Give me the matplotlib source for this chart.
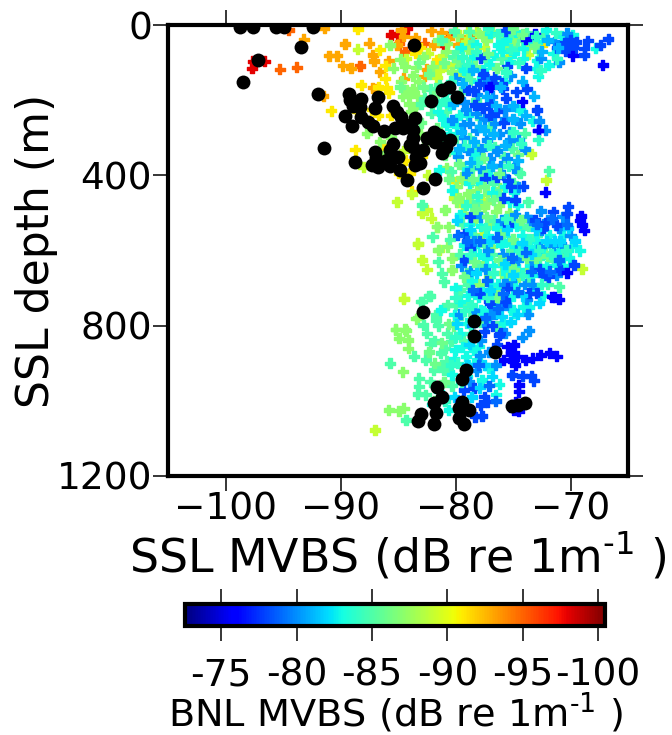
"""SSL depth against SSL MVBS, coloured by BNL MVBS."""

import matplotlib

matplotlib.use("Agg")
import matplotlib.pyplot as plt  # noqa: E402
from matplotlib.colors import Normalize  # noqa: E402

# (SSL MVBS, SSL depth), one list per BNL MVBS level.
pts_m98 = [(-97.6, 97), (-96.6, 97), (-97.7, 115), (-85.6, 27), (-85, 24), (-81, 53), (-80.4, 24), (-84.2, 10)]
pts_m95 = [(-95.3, 118), (-93.8, 113), (-82.7, 49), (-84.4, 71), (-88.3, 109), (-94.5, 13), (-78.5, 30), (-84.9, 50)]
pts_m93 = [
    (-91.4, 9), (-93.2, 38), (-89.6, 51), (-87.5, 49), (-91, 82), (-90.3, 82), (-87.2, 80), (-87.1, 96),
    (-89.8, 108), (-89.1, 115), (-86.6, 124), (-85.8, 95), (-84.5, 142), (-82.7, 137), (-87.2, 167),
    (-82.1, 15), (-81.2, 20), (-84.7, 13), (-85.1, 53), (-81.9, 53), (-79.8, 53), (-82.5, 118), (-91.5, 189),
    (-83.5, 35), (-80.6, 35), (-79.2, 40), (-86.9, 170), (-84.5, 30),
]
pts_m91 = [
    (-88.5, 11), (-86.6, 66), (-86.1, 108), (-88.2, 160), (-86.1, 142), (-90.8, 228), (-88.7, 332),
    (-81.6, 93), (-86.7, 165), (-72.5, 53), (-80, 417), (-77.4, 27), (-86, 168), (-87.3, 225), (-83.8, 443),
    (-84.9, 395), (-83.1, 60), (-85.6, 240), (-86.7, 240), (-88.6, 230), (-84, 395), (-85.8, 180), (-83.5, 75),
    (-86.3, 320), (-84.4, 360), (-82.9, 350),
]
pts_m89 = [
    (-88.5, 65), (-80, 18), (-78.9, 18), (-78.2, 18), (-81.4, 120), (-80.2, 102), (-85.1, 470), (-82.5, 492),
    (-82.1, 514), (-81.6, 537), (-83.3, 581), (-88, 379), (-72.1, 412), (-73.4, 343), (-77.7, 559),
    (-83.8, 450), (-82.9, 500), (-77.7, 466), (-83.3, 583), (-81.4, 599), (-82.9, 625), (-82.5, 650),
    (-84.5, 727), (-69, 648), (-84.5, 729), (-87, 1078), (-81.6, 140), (-79.1, 45), (-83.8, 255),
    (-80.8, 110), (-79.7, 130), (-77.5, 60), (-75.5, 85), (-73.7, 78), (-84.3, 90), (-82.4, 75), (-81.1, 82),
    (-84.5, 335), (-86.3, 350), (-82.4, 400), (-80.1, 460), (-79.4, 480), (-80, 430),
]
pts_m87 = [
    (-85.4, 115), (-84.4, 111), (-84.8, 91), (-83.4, 113), (-83.2, 151), (-79.2, 129), (-85.7, 53),
    (-87.7, 288), (-86.6, 310), (-84.3, 173), (-83.7, 170), (-85.2, 810), (-84.4, 810), (-83.4, 781),
    (-85.2, 811), (-84.3, 813), (-84.9, 834), (-83.3, 780), (-84.1, 838), (-84.1, 860), (-85.8, 1024),
    (-84.9, 1026), (-84.5, 1020), (-84.6, 922), (-80.9, 492), (-81.6, 537), (-80.6, 537), (-81.5, 599),
    (-80.3, 621), (-80.3, 652), (-78.6, 417), (-79.2, 501), (-76.5, 497), (-77.5, 484), (-77.2, 473),
    (-78.2, 440), (-78.9, 450), (-79.7, 460), (-79.9, 430), (-78.6, 470), (-78.1, 500), (-77, 530),
    (-75.6, 620), (-75, 640), (-76, 660), (-77.1, 670), (-77.7, 640), (-78, 690), (-76.4, 700),
    (-79.5, 405), (-78.7, 380), (-80.8, 380), (-82.5, 310), (-83.1, 290), (-85.6, 300), (-86, 340),
    (-78, 22), (-77.3, 40), (-76, 30), (-75, 45), (-80.8, 70), (-82.8, 85), (-84, 210), (-83.9, 230),
    (-83.3, 190), (-84.6, 190), (-78.6, 90), (-81.5, 40), (-80.7, 50), (-79.8, 28), (-78.9, 65), (-77.6, 30),
    (-76.8, 18), (-75.8, 58), (-74.7, 35), (-73.8, 60), (-82, 110), (-80.3, 125), (-83.7, 135), (-84.7, 150),
    (-84.1, 190), (-83.5, 220), (-79.4, 410), (-79.9, 470), (-77.2, 450), (-76.2, 435), (-78.3, 520),
    (-76.2, 480), (-75.3, 500), (-80.7, 590), (-76.8, 590), (-73.7, 650), (-74.5, 670),
]
pts_m85 = [
    (-80.1, 16), (-78.8, 18), (-74, 288), (-71.9, 388), (-74.5, 392), (-76.6, 324), (-75.1, 328), (-79, 129),
    (-77.9, 248), (-78.5, 381), (-77.2, 381), (-74.4, 395), (-71, 696), (-79.6, 705), (-82, 563), (-81.5, 630),
    (-81.2, 661), (-81, 683), (-82.9, 479), (-82.3, 721), (-82.9, 736), (-83.2, 940), (-83.2, 962),
    (-83.3, 982), (-82.6, 984), (-84.3, 1051), (-83, 736), (-82.2, 721), (-82.8, 798), (-82.5, 820),
    (-82.2, 847), (-81.7, 772), (-80.7, 745), (-80, 745), (-79, 745), (-80.7, 820), (-80.4, 842), (-81, 918),
    (-81.9, 918), (-82.2, 949), (-82.6, 891), (-81.3, 873), (-83.6, 882), (-80.8, 895), (-85.7, 900),
    (-81.5, 800), (-81.8, 840), (-80.9, 860), (-79.8, 780), (-78.5, 770), (-77.8, 790), (-76.4, 730),
    (-74.9, 700), (-75.8, 560), (-74.3, 610), (-73.3, 600), (-72.2, 590), (-71.5, 625), (-73.7, 680),
    (-76.8, 610), (-77.5, 585), (-78, 640), (-75, 520), (-73.6, 535), (-72.9, 560), (-78.4, 560),
    (-76.3, 450), (-75, 420), (-73.7, 470), (-79.4, 530), (-80.5, 570), (-79, 660), (-79.6, 610),
    (-78.8, 300), (-78, 330), (-77, 270), (-75.8, 350), (-76, 90), (-74.6, 60), (-73.8, 20), (-72.8, 70),
    (-79.3, 170), (-80.8, 230), (-79.9, 300), (-81.2, 40), (-80.2, 85), (-82, 210), (-81.4, 160), (-78.2, 200),
    (-79.9, 70), (-78.5, 45), (-77.4, 95), (-75.2, 25), (-74.2, 42), (-72.4, 25), (-79.6, 110), (-78.7, 145),
    (-82.7, 195), (-82.2, 170), (-83, 210), (-82.1, 235), (-80.8, 310), (-80.4, 390), (-77.6, 400), (-76.7, 420),
    (-78.1, 470), (-76.7, 520), (-74.2, 540), (-72.7, 620), (-70.8, 620), (-72, 690), (-75.2, 600), (-78.9, 690),
    (-76.4, 800), (-79.3, 840), (-81.2, 905), (-80.3, 960), (-81.7, 785),
]
pts_m83 = [
    (-77, 22), (-74.8, 18), (-72.1, 13), (-69.8, 27), (-67.8, 62), (-71.9, 106), (-72.8, 137), (-74.4, 226),
    (-73.3, 255), (-74.1, 62), (-76.3, 53), (-78.2, 53), (-76.7, 80), (-75.3, 98), (-77.6, 120), (-79.3, 120),
    (-74.1, 89), (-80.5, 213), (-79.6, 240), (-80.8, 266), (-81.4, 386), (-80, 340), (-79.3, 380), (-78.3, 345),
    (-76.5, 140), (-73.5, 40), (-72.9, 45), (-75.6, 40), (-79.5, 60), (-78.4, 85), (-81.1, 250), (-81.5, 230),
    (-77.8, 420), (-76.8, 445), (-75.7, 430), (-74.9, 445), (-80.3, 440), (-79.6, 505), (-78.8, 530),
    (-77.8, 535), (-76.4, 540), (-75.4, 575), (-74.2, 560), (-73, 575), (-71.8, 560), (-70.6, 560),
    (-69.9, 590), (-69.2, 600), (-70.1, 620), (-71, 600), (-72.4, 610), (-73.5, 640), (-74.8, 590),
    (-76, 585), (-77.2, 560), (-78.4, 590), (-79.3, 585), (-78.9, 620), (-77.9, 610), (-76.7, 640),
    (-75.6, 660), (-74.5, 650), (-73.3, 665), (-72.1, 640), (-78.6, 680), (-77.7, 710), (-76.3, 690),
    (-75, 720), (-74.1, 750), (-73.2, 700), (-72.4, 720), (-76.8, 745), (-77.6, 760), (-78.9, 720),
    (-80, 700), (-81.3, 758), (-80.1, 771), (-79, 794), (-79.6, 820), (-80, 865), (-79.4, 856), (-79.1, 882),
    (-80.1, 887), (-78.4, 865), (-78, 856), (-78.1, 891), (-77.1, 913), (-77.1, 776), (-77.8, 758),
    (-75.8, 794), (-74.9, 767), (-76.2, 956), (-80.6, 1024), (-76.5, 984), (-79, 936), (-80.3, 930),
    (-81.4, 975), (-82, 1010), (-78.2, 830), (-78.9, 905), (-77.7, 945), (-75.9, 70), (-74.9, 75), (-72.9, 95),
    (-71.5, 75), (-70.8, 30), (-73, 115), (-75.7, 150), (-77, 105), (-78, 150), (-79.8, 190), (-80.9, 180),
    (-79.9, 270), (-78.9, 240), (-80.5, 290), (-81, 330), (-78.8, 420), (-77, 400), (-75.3, 470), (-74.6, 480),
    (-74.7, 535), (-73.5, 590), (-72.9, 640), (-71.3, 640), (-70.6, 640), (-77.3, 620), (-75.9, 640),
    (-74.8, 695), (-73.6, 750), (-76.9, 690), (-75.3, 750), (-79.6, 735), (-78, 725),
]
pts_m80 = [
    (-70.3, 22), (-71.4, 44), (-72.6, 89), (-71, 98), (-75.3, 284), (-72.2, 280), (-72.7, 255), (-74.4, 262),
    (-75.7, 248), (-76.6, 262), (-78.8, 262), (-80, 142), (-74, 330), (-74.5, 306), (-75.5, 355), (-77.3, 306),
    (-78.2, 280), (-79.3, 300), (-80.3, 253), (-79.8, 350), (-78.9, 333), (-75.3, 306), (-77, 355), (-76.1, 375),
    (-79, 395), (-77.9, 380), (-75.8, 400), (-74.5, 430), (-73.8, 510), (-72.6, 495), (-72, 520), (-71, 540),
    (-70, 560), (-74.8, 505), (-76, 520), (-77.8, 510), (-78.4, 575), (-77.2, 600), (-75.9, 610), (-74.6, 625),
    (-73.4, 625), (-72.4, 665), (-71.2, 665), (-74, 690), (-75.2, 680), (-77.4, 650), (-78.7, 655), (-79.5, 640),
    (-76.8, 720), (-75.6, 745), (-73.8, 730), (-73.7, 770), (-74.2, 831), (-73.6, 813), (-75.7, 820),
    (-79.6, 770), (-78.4, 760), (-76.5, 770), (-77.3, 800), (-77.8, 840), (-78.8, 950), (-78.2, 920),
    (-77.2, 145), (-76.8, 190), (-75.7, 225), (-78.1, 185), (-79.3, 205), (-77.5, 250), (-76.2, 290),
    (-77.7, 330), (-79.3, 265), (-76.4, 335), (-74.9, 380), (-78.2, 235), (-79.1, 225), (-75.2, 135),
    (-72.6, 590), (-71.5, 585), (-70.5, 590), (-73.5, 520), (-70.7, 510), (-72.5, 545), (-74.4, 590),
    (-73.3, 690), (-75.8, 690), (-76.9, 770), (-78.6, 800), (-77.9, 880), (-77.1, 870), (-76.5, 905),
]
pts_m78 = [
    (-66.7, 37), (-67.4, 53), (-68.5, 42), (-68.8, 62), (-68.8, 80), (-70, 53), (-70.5, 48), (-71.2, 60),
    (-69.8, 60), (-75.7, 16), (-77.8, 87), (-73.9, 114), (-76.6, 139), (-77.9, 157), (-77.2, 170), (-73.8, 170),
    (-75.9, 169), (-78.9, 173), (-75.5, 111), (-74.7, 177), (-75.6, 195), (-76.4, 231), (-77.6, 222), (-78.3, 213),
    (-77, 209), (-72.9, 226), (-77.4, 408), (-76.4, 404), (-75.4, 413), (-74.1, 429), (-75.2, 430), (-78.7, 510),
    (-79.2, 555), (-70.2, 483), (-70.3, 501), (-71.5, 497), (-73.1, 519), (-72.2, 526), (-71.2, 532), (-69.7, 639),
    (-70.9, 652), (-72.3, 665), (-75.5, 701), (-77.9, 714), (-77.1, 736), (-75.7, 732), (-73.6, 714), (-72.9, 714),
    (-75.4, 532), (-75.8, 461), (-74.8, 466), (-78.7, 594), (-79.2, 625), (-77, 740), (-75.7, 736), (-76.1, 820),
    (-77.5, 816), (-79.3, 971), (-78.4, 967), (-77.5, 989), (-77.2, 1002), (-77.8, 1011), (-77.7, 1040),
    (-78.3, 1042), (-75.1, 931), (-74.2, 934), (-73.4, 934), (-73.2, 946), (-72.8, 280), (-76, 155), (-76.8, 155),
    (-78.4, 175), (-77, 240), (-75.8, 260), (-69.5, 45), (-69.9, 70), (-70.4, 70), (-70, 40), (-77.6, 130),
    (-76.2, 825), (-76.4, 850), (-76.8, 800), (-72.4, 540), (-71.9, 670), (-72.7, 650),
]
pts_m76 = [
    (-67.2, 106), (-69.8, 82), (-73.1, 25), (-73.9, 37), (-74.2, 204), (-72.8, 280), (-72.2, 445), (-69.1, 508),
    (-69.2, 520), (-69, 532), (-68.8, 546), (-70.3, 659), (-71.6, 723), (-71, 730), (-71.4, 725), (-75.8, 891),
    (-75.2, 873), (-74.6, 882), (-73.9, 891), (-73.3, 887), (-72.6, 878), (-71.8, 873), (-71.2, 882), (-74.8, 905),
    (-74.9, 851), (-75.5, 856), (-74.5, 958), (-74.5, 976), (-74.8, 1002), (-74.9, 1024), (-74.5, 1028),
    (-77, 165), (-75.2, 875), (-75, 895),
]
# Further points that lie over the ones above, in a mix of levels.
top_m86 = [
    (-83.2, 100), (-82.3, 130), (-81, 100), (-79.8, 95), (-78.3, 110), (-77.2, 75), (-76.4, 115), (-75, 10),
    (-74.2, 25), (-73.1, 55), (-84.8, 165), (-82.8, 165), (-81.9, 190), (-84.4, 255), (-83, 260), (-81.6, 275),
    (-80.9, 345), (-79.7, 370), (-77.6, 355), (-76.2, 395), (-74.6, 345), (-78.5, 410), (-80.6, 410),
]
top_m84 = [
    (-80.4, 150), (-79.4, 85), (-78.2, 70), (-77.2, 8), (-76.3, 25), (-75.2, 65), (-74.5, 100), (-73, 30),
    (-71.3, 20), (-71.2, 90), (-72.6, 120), (-75.6, 125), (-78.9, 105), (-80.8, 200), (-81.4, 210), (-79.2, 320),
    (-78.1, 365), (-77.1, 320), (-75.4, 375), (-74.3, 315), (-75, 285), (-72.8, 305),
]
top_m81 = [
    (-79.4, 155), (-78.5, 120), (-77.3, 190), (-76.1, 165), (-75, 215), (-74.2, 150), (-73.2, 190), (-73.9, 240),
    (-75, 250), (-76.5, 215), (-77.9, 270), (-79.5, 285), (-78.4, 310), (-76.7, 290), (-75.7, 320), (-74.6, 360),
    (-78.7, 365), (-76.8, 375), (-77.5, 280), (-79.7, 330), (-80.2, 210), (-71.1, 60), (-72.5, 70), (-72, 40),
]
mid_m86 = [
    (-77.5, 430), (-76.7, 465), (-78.3, 490), (-77.3, 510), (-76, 555), (-75, 570), (-74.3, 520), (-73.8, 620),
    (-73, 620), (-74.9, 650), (-76.2, 625), (-75.2, 665), (-76.4, 725), (-79.3, 670), (-78.4, 630), (-72, 615),
    (-81.8, 900), (-81.2, 845), (-80.6, 795), (-82.3, 870), (-81, 950), (-81.8, 1000), (-80.2, 800),
]
mid_m84 = [
    (-79.1, 480), (-78.1, 455), (-75.6, 515), (-74.4, 600), (-73.6, 570), (-71.7, 610), (-70.4, 600), (-72.8, 600),
    (-77.4, 540), (-78.7, 610), (-76.7, 660), (-74.2, 665), (-72.5, 690), (-77.2, 725), (-80, 725), (-78.6, 745),
    (-80, 830), (-79.2, 760), (-78.7, 820), (-80.4, 905), (-79.8, 900), (-80.9, 1000), (-79.5, 950),
]
mid_m82 = [
    (-79.9, 520), (-78.7, 545), (-77, 575), (-75.5, 545), (-74.2, 580), (-73, 545), (-71.4, 575), (-70.2, 540),
    (-69.6, 575), (-70.9, 575), (-72.1, 575), (-73.4, 610), (-75.7, 635), (-78.2, 660), (-77, 705), (-75, 665),
    (-74.2, 720), (-72.7, 740), (-74.6, 770), (-76, 775), (-75.2, 790), (-79.9, 795), (-78.8, 850), (-79, 905),
    (-77.5, 905), (-76.8, 935), (-77.9, 965), (-78.6, 990), (-80.1, 990),
]
mid_m79 = [
    (-79.8, 560), (-79, 575), (-77.9, 575), (-76.4, 565), (-75.1, 620), (-73.9, 605), (-72.9, 530), (-71.6, 515),
    (-70.3, 530), (-71, 625), (-71.8, 655), (-73.4, 655), (-74.6, 710), (-75.9, 715), (-77.3, 680), (-78.5, 705),
    (-76.3, 755), (-77.4, 780), (-78, 905), (-77.1, 960), (-76.5, 1000), (-79.6, 1000),
]
bnl_levels = [-98, -95, -93, -91, -89, -87, -85, -83, -80, -78, -76, -86, -84, -81, -86, -84, -82, -79]
ssl_points = [
    pts_m98, pts_m95, pts_m93, pts_m91, pts_m89, pts_m87, pts_m85, pts_m83, pts_m80, pts_m78, pts_m76,
    top_m86, top_m84, top_m81, mid_m86, mid_m84, mid_m82, mid_m79,
]

# Matched points, drawn black.
black_x = [
    -98.7, -97.6, -95.6, -94.9, -92.4, -93.4, -83.6, -97.2, -98.5, -92, -89.3, -89.2, -88.2, -88.9, -88.3, -86.7,
    -87, -85.4, -85.1, -84.7, -83.5, -84.3, -89.6, -88.2, -87.6, -89, -87.2, -86.2, -85.3, -84.6, -83.7, -83.7,
    -82.1, -81.2, -80.6, -79.9, -81.9, -81.4, -82.5, -80.5, -81.8, -80.8, -81.2, -84, -82.8, -83.4, -83.7, -85.4,
    -87, -85.7, -85, -86, -86.9, -87.3, -86.7, -85.7, -84.8, -83.5, -83.1, -88.7, -91.4, -84.2, -81.8, -82.8,
    -82.8, -78.4, -78.4, -76.6, -79.1, -79.4, -81.6, -81.2, -81.9, -81.7, -83, -83.3, -81.9, -79.4, -79.7, -78.8,
    -79.7, -79.3, -75.1, -74.6, -74,
]
black_depth = [
    5, 5, 5, 5, 5, 59, 53, 93, 152, 184, 184, 200, 198, 215, 217, 192,
    222, 215, 231, 244, 248, 266, 242, 246, 257, 268, 270, 282, 275, 275, 279, 301,
    201, 173, 166, 192, 284, 293, 301, 306, 310, 324, 341, 319, 332, 350, 325, 317,
    337, 333, 350, 359, 355, 372, 377, 375, 386, 372, 368, 365, 328, 412, 410, 434,
    763, 787, 827, 871, 918, 942, 962, 989, 1007, 1033, 1035, 1053, 1062, 1002, 1020, 1024,
    1046, 1062, 1015, 1011, 1007,
]
x_ticks = [-100, -90, -80, -70]
y_ticks = [0, 400, 800, 1200]
bar_ticks = [-75, -80, -85, -90, -95, -100]
bar_labels = ["-75", "-80", "-85", "-90", "-95", "-100"]

W, H = 672, 735


def rect(left, top, right, bottom):
    return [left / W, 1 - bottom / H, (right - left) / W, (bottom - top) / H]


fig = plt.figure(figsize=(W / 100, H / 100), dpi=100)
ax = fig.add_axes(rect(168, 25, 628, 476))
norm = Normalize(vmin=-100.45, vmax=-72.6)

artist = None
for level, pts in zip(bnl_levels, ssl_points):
    xs = [p[0] for p in pts]
    ys = [p[1] for p in pts]
    artist = ax.scatter(
        xs, ys, c=[level] * len(pts), cmap="jet_r", norm=norm, marker="P", s=52, linewidths=1, edgecolors="face", zorder=2
    )
ax.scatter(black_x, black_depth, c="k", s=100, linewidths=0, zorder=3)

ax.set_xlim(-105, -65)
ax.set_ylim(1200, 0)
ax.set_xticks(x_ticks)
ax.set_yticks(y_ticks)
ax.tick_params(top=True, right=True, direction="out", length=10.5, width=1.1, labelsize=27, pad=1)
for spine in ax.spines.values():
    spine.set_linewidth(3)
ax.set_ylabel("SSL depth (m)", fontsize=31.8, labelpad=-1)
ax.set_xlabel(r"SSL MVBS (dB re 1m$^{\text{-1}}$ )", fontsize=33, labelpad=2)

cax = fig.add_axes(rect(185, 604, 605, 626))
cbar = fig.colorbar(artist, cax=cax, orientation="horizontal")
cax.set_xlim(-72.6, -100.45)
cbar.set_ticks(bar_ticks, labels=bar_labels)
cbar.outline.set_linewidth(3)
cax.tick_params(top=True, bottom=True, length=10.5, width=1.1, labelsize=27, pad=12)
cbar.set_label(r"BNL MVBS (dB re 1m$^{\text{-1}}$ )", fontsize=27.5, labelpad=-2)

fig.savefig("out.png", dpi=100)
plt.close(fig)
